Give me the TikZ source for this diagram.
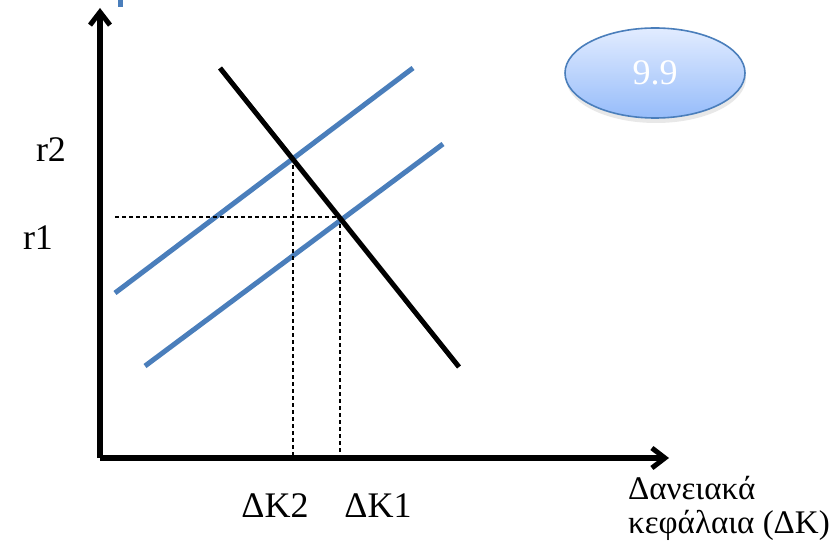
\documentclass[tikz,border=0pt]{standalone}
\usepackage{fontspec}
\setmainfont{Liberation Serif}
\usetikzlibrary{arrows.meta, shadows, shapes.geometric, calc}
\definecolor{supblue}{RGB}{74,126,187}
\definecolor{badgetop}{RGB}{226,236,255}
\definecolor{badgebot}{RGB}{150,188,250}
\tikzset{
  axisline/.style = {line width=5.5pt,
                     -{Straight Barb[length=13pt, width=20pt, line width=5pt]}},
  demand/.style   = {line width=5pt, black},
  supply/.style   = {line width=5pt, supblue},
  guide/.style    = {line width=1.3pt, dash pattern=on 4pt off 3pt},
  lbl/.style      = {font=\fontsize{36}{40}\selectfont, inner sep=0pt},
  badge/.style    = {ellipse, draw=supblue, line width=1.6pt,
                     top color=badgetop, bottom color=badgebot,
                     minimum width=180pt, minimum height=90pt,
                     text=white, font=\fontsize{36}{40}\selectfont,
                     drop shadow={opacity=0.18, shadow xshift=1pt, shadow yshift=-5pt}},
}

\begin{document}
\begin{tikzpicture}[x=1pt, y=-1pt]
  \useasboundingbox (0,0) rectangle (837,545);

  % ---- axes ----
  \coordinate (O) at (100,458);
  \coordinate (ytip) at (100,8);
  \coordinate (xtip) at (669,458);
  \draw[axisline] (O) -- (ytip);
  \draw[axisline] (O) -- (xtip);
  \fill[supblue] (118,0) rectangle (123,7);

  % ---- curves ----
  \coordinate (Dtop) at (220,68);
  \coordinate (Dbot) at (459,367);
  \coordinate (S2a) at (115,293);
  \coordinate (S2b) at (413,68);
  \coordinate (S1a) at (145,366);
  \coordinate (S1b) at (443,144);
  \draw[supply] (S2a) -- (S2b);
  \draw[supply] (S1a) -- (S1b);
  \draw[demand] (Dtop) -- (Dbot);

  % ---- equilibria ----
  \coordinate (E2) at (293,158);
  \coordinate (E1) at (340,217);
  \coordinate (r1start) at (115,217);
  \draw[guide] (r1start) -- (E1);
  \draw[guide] (E1) -- (E1 |- O);
  \draw[guide] (E2) -- (E2 |- O);

  % ---- labels ----
  \node[lbl] (r2) at (51,150) {r2};
  \node[lbl] (r1) at (38,238) {r1};
  \node[lbl] (dk2) at (275,506) {ΔK2};
  \node[lbl] (dk1) at (378,506) {ΔK1};
  \node[lbl, font=\fontsize{33}{34}\selectfont, align=left, anchor=north west]
        (xlab) at (628,476) {Δανειακά\\κεφάλαια (ΔK)};

  \node[badge] (tag) at (655,73) {9.9};
\end{tikzpicture}
\end{document}
